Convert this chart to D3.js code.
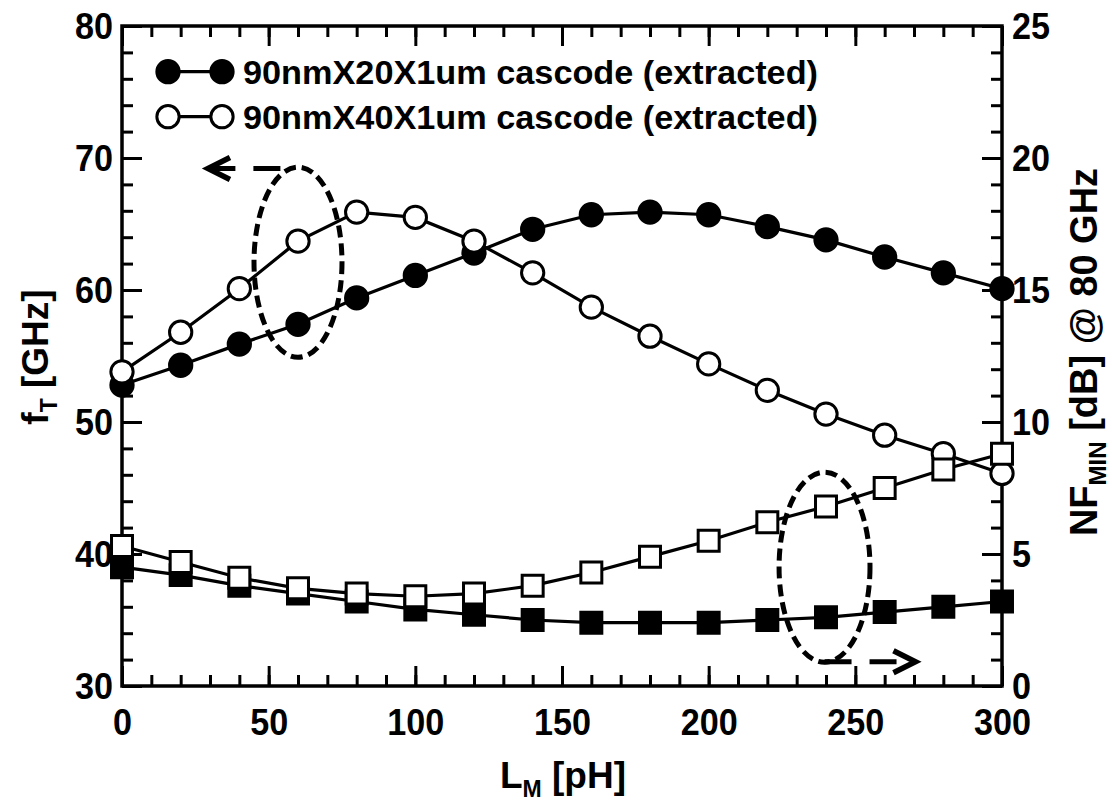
<!DOCTYPE html>
<html>
<head>
<meta charset="utf-8">
<title>fT and NFmin vs LM</title>
<script src="https://d3js.org/d3.v7.min.js"></script>
<style>
  body { margin: 0; background: #fff; }
  text { font-family: "Liberation Sans", Arial, sans-serif; font-weight: bold; fill: #000; }
</style>
</head>
<body>
<script>
// data
var lm = [0, 20, 40, 60, 80, 100, 120, 140, 160, 180, 200, 220, 240, 260, 280, 300];
var ft20 = [52.8, 54.3, 55.9, 57.4, 59.4, 61.1, 62.8, 64.6, 65.7, 65.9, 65.7, 64.8, 63.8, 62.5, 61.3, 60.1];
var ft40 = [53.8, 56.8, 60.1, 63.7, 65.9, 65.5, 63.7, 61.3, 58.7, 56.5, 54.4, 52.4, 50.6, 49.0, 47.6, 46.1];
var nf20 = [4.5, 4.2, 3.8, 3.5, 3.2, 2.9, 2.7, 2.5, 2.4, 2.4, 2.4, 2.5, 2.6, 2.8, 3.0, 3.2];
var nf40 = [5.3, 4.7, 4.1, 3.7, 3.5, 3.4, 3.5, 3.8, 4.3, 4.9, 5.5, 6.2, 6.8, 7.5, 8.2, 8.8];

var xTicks = [0, 50, 100, 150, 200, 250, 300];
var ftTicks = [30, 40, 50, 60, 70, 80];
var nfTicks = [0, 5, 10, 15, 20, 25];
var legendLabels = ["90nmX20X1um cascode (extracted)", "90nmX40X1um cascode (extracted)"];

var W = 1112, H = 801;
var m = {left: 122, top: 26, right: 110, bottom: 115};
var w = W - m.left - m.right, h = H - m.top - m.bottom;

var svg = d3.select("body").append("svg")
    .attr("width", W)
    .attr("height", H);

var g = svg.append("g").attr("transform", "translate(" + m.left + "," + m.top + ")");

var x = d3.scaleLinear().domain([0, 300]).range([0, w]);
var yL = d3.scaleLinear().domain([30, 80]).range([h, 0]);
var yR = d3.scaleLinear().domain([0, 25]).range([h, 0]);

// axes: major + minor ticks, all pointing inward
function styleAxis(sel) {
  sel.select(".domain").remove();
  sel.selectAll(".tick line").attr("stroke", "#000").attr("stroke-width", 3);
  sel.selectAll(".tick text").attr("font-size", 36).attr("fill", "#000")
    .attr("textLength", function (d) { return String(d).length * 19; })
    .attr("lengthAdjust", "spacingAndGlyphs");
}
var minorX = d3.range(0, 301, 10), minorL = d3.range(30, 81, 2), minorR = d3.range(0, 26, 1);

g.append("g").attr("transform", "translate(0," + h + ")")
  .call(d3.axisBottom(x).tickValues(minorX).tickSize(-11).tickFormat(""))
  .call(styleAxis);
g.append("g").attr("transform", "translate(0," + h + ")")
  .call(d3.axisBottom(x).tickValues(xTicks).tickSize(-20).tickPadding(36).tickFormat(d3.format("d")))
  .call(styleAxis);
g.append("g")
  .call(d3.axisTop(x).tickValues(minorX).tickSize(-11).tickFormat(""))
  .call(styleAxis);
g.append("g")
  .call(d3.axisTop(x).tickValues(xTicks).tickSize(-20).tickFormat(""))
  .call(styleAxis);

g.append("g")
  .call(d3.axisLeft(yL).tickValues(minorL).tickSize(-11).tickFormat(""))
  .call(styleAxis);
g.append("g")
  .call(d3.axisLeft(yL).tickValues(ftTicks).tickSize(-20).tickPadding(9).tickFormat(d3.format("d")))
  .call(styleAxis);
g.append("g").attr("transform", "translate(" + w + ",0)")
  .call(d3.axisRight(yR).tickValues(minorR).tickSize(-11).tickFormat(""))
  .call(styleAxis);
g.append("g").attr("transform", "translate(" + w + ",0)")
  .call(d3.axisRight(yR).tickValues(nfTicks).tickSize(-20).tickPadding(10).tickFormat(d3.format("d")))
  .call(styleAxis);

g.selectAll(".tick text").attr("dy", "0.36em");

// frame
g.append("rect")
  .attr("width", w).attr("height", h)
  .attr("fill", "none").attr("stroke", "#000").attr("stroke-width", 3.5);

// series
function drawSeries(vals, yScale, shape, filled) {
  var pts = lm.map(function (d, i) { return [x(d), yScale(vals[i])]; });
  g.append("path")
    .datum(pts)
    .attr("d", d3.line())
    .attr("fill", "none")
    .attr("stroke", "#000")
    .attr("stroke-width", 3.2);
  var sym = d3.symbol().type(shape === "circle" ? d3.symbolCircle : d3.symbolSquare)
    .size(shape === "circle" ? 390 : 440);
  g.append("g").selectAll("path")
    .data(pts)
    .enter().append("path")
    .attr("transform", function (p) { return "translate(" + p[0] + "," + p[1] + ")"; })
    .attr("d", sym)
    .attr("fill", filled ? "#000" : "#fff")
    .attr("stroke", "#000")
    .attr("stroke-width", 3);
}
drawSeries(ft20, yL, "circle", true);
drawSeries(ft40, yL, "circle", false);
drawSeries(nf20, yR, "square", true);
drawSeries(nf40, yR, "square", false);

// dashed ellipses and arrows
function ellipse(x0, x1, ya, yb) {
  g.append("ellipse")
    .attr("cx", (x(x0) + x(x1)) / 2)
    .attr("cy", (ya + yb) / 2)
    .attr("rx", (x(x1) - x(x0)) / 2)
    .attr("ry", Math.abs(yb - ya) / 2)
    .attr("fill", "none")
    .attr("stroke", "#000")
    .attr("stroke-width", 5)
    .attr("stroke-dasharray", "12 6");
}
ellipse(45, 75, yL(69.3), yL(54.9));
ellipse(224, 255, yR(8.1), yR(0.9));

function arrow(xa, xb, yy, dir) {
  g.append("line")
    .attr("x1", x(xa)).attr("x2", x(xb) - dir * 4)
    .attr("y1", yy).attr("y2", yy)
    .attr("stroke", "#000").attr("stroke-width", 5)
    .attr("stroke-dasharray", "27 18");
  var tip = x(xb);
  g.append("path")
    .attr("d", "M" + (tip - dir * 22) + "," + (yy - 11) + "L" + tip + "," + yy + "L" + (tip - dir * 22) + "," + (yy + 11))
    .attr("fill", "none").attr("stroke", "#000").attr("stroke-width", 5.5)
    .attr("stroke-linejoin", "miter");
}
arrow(54, 29.3, yL(69.2), -1);
arrow(239.5, 270.5, yR(0.92), 1);

// legend
var legY = [71.7 - m.top, 116.7 - m.top];
legendLabels.forEach(function (lab, i) {
  var lg = g.append("g").attr("transform", "translate(0," + legY[i] + ")");
  lg.append("line").attr("x1", 46).attr("x2", 100).attr("stroke", "#000").attr("stroke-width", 3.2);
  [46, 100].forEach(function (cx) {
    lg.append("path")
      .attr("transform", "translate(" + cx + ",0)")
      .attr("d", d3.symbol().type(d3.symbolCircle).size(390))
      .attr("fill", i === 0 ? "#000" : "#fff")
      .attr("stroke", "#000").attr("stroke-width", 3);
  });
  lg.append("text")
    .attr("x", 121).attr("dy", "0.36em")
    .attr("font-size", 33)
    .attr("textLength", 575).attr("lengthAdjust", "spacingAndGlyphs")
    .text(lab);
});

// axis titles
var xt = svg.append("text")
  .attr("x", 563).attr("y", 788)
  .attr("text-anchor", "middle").attr("font-size", 37);
xt.append("tspan").text("L");
xt.append("tspan").attr("font-size", 23).attr("dy", 9).text("M");
xt.append("tspan").attr("dy", -9).text(" [pH]");

var lt = svg.append("text")
  .attr("transform", "translate(48,357) rotate(-90)")
  .attr("text-anchor", "middle").attr("font-size", 37);
lt.append("tspan").text("f");
lt.append("tspan").attr("font-size", 23).attr("dy", 9).text("T");
lt.append("tspan").attr("dy", -9).text(" [GHz]");

var rt = svg.append("text")
  .attr("transform", "translate(1097,352) rotate(-90)")
  .attr("text-anchor", "middle").attr("font-size", 38);
rt.append("tspan").text("NF");
rt.append("tspan").attr("font-size", 24).attr("dy", 9).text("MIN");
rt.append("tspan").attr("dy", -9).text(" [dB] @ 80 GHz");
</script>
</body>
</html>
